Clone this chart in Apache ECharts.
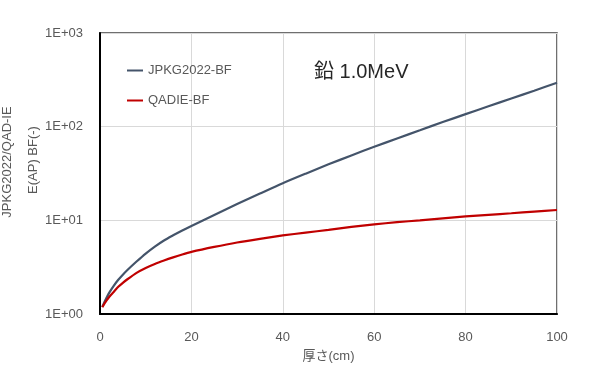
<!DOCTYPE html>
<html>
<head>
<meta charset="utf-8">
<script src="https://cdn.jsdelivr.net/npm/echarts@6/dist/echarts.min.js"></script>
<style>
  html, body { margin: 0; padding: 0; background: #fff; }
  #chart { width: 611px; height: 369px; }
</style>
</head>
<body>
<div id="chart"></div>
<script>
// Thickness (cm) and build-up factors for lead at 1.0 MeV
const thickness = [0.5, 1, 2, 3, 4, 5, 6, 8, 10, 12, 14, 16, 18, 20, 25, 30, 35, 40, 45, 50, 55, 60, 65, 70, 75, 80, 85, 90, 95, 100];
const jpkgBF = [1.19, 1.35, 1.68, 2.0, 2.32, 2.63, 2.95, 3.63, 4.42, 5.25, 6.1, 6.92, 7.8, 8.71, 11.4, 14.9, 19.3, 24.9, 31.5, 39.6, 49.3, 61, 74.8, 91.5, 112, 136, 165, 200, 242, 294];
const qadieBF = [1.18, 1.3, 1.52, 1.72, 1.95, 2.15, 2.35, 2.75, 3.1, 3.42, 3.72, 4.02, 4.32, 4.6, 5.2, 5.8, 6.35, 6.9, 7.4, 7.9, 8.5, 9.05, 9.55, 10.0, 10.5, 11.0, 11.45, 11.9, 12.4, 12.9];
const seriesNames = ['JPKG2022-BF', 'QADIE-BF'];
const yTickLabels = { 1: '1E+00', 10: '1E+01', 100: '1E+02', 1000: '1E+03' };

const FONT = '"Liberation Sans", "Noto Sans CJK JP", sans-serif';
const GRAY = '#595959';

const chart = echarts.init(document.getElementById('chart'), null, { renderer: 'canvas' });

const pairs = (xs, ys) => xs.map((x, i) => [x, ys[i]]);

chart.setOption({
  animation: false,
  textStyle: { fontFamily: FONT },
  grid: {
    left: 100, right: 54, top: 33, bottom: 55,
    show: true, borderColor: '#404040', borderWidth: 1.5
  },
  legend: {
    data: seriesNames,
    orient: 'vertical',
    left: 122, top: 59,
    itemWidth: 16, itemHeight: 14, itemGap: 17,
    icon: 'path://M0,6 L16,6 L16,8 L0,8 Z',
    textStyle: { color: GRAY, fontSize: 13, fontFamily: FONT }
  },
  xAxis: {
    type: 'value', min: 0, max: 100, interval: 20,
    name: '厚さ(cm)', nameLocation: 'middle', nameGap: 36,
    nameTextStyle: { color: GRAY, fontSize: 13, fontFamily: FONT },
    axisLine: { show: true, lineStyle: { color: '#000', width: 2 } },
    axisTick: { show: false },
    axisLabel: { color: GRAY, fontSize: 13, margin: 17, fontFamily: FONT },
    splitLine: { show: true, lineStyle: { color: '#d9d9d9', width: 1 } }
  },
  yAxis: {
    type: 'log', logBase: 10, min: 1, max: 1000,
    axisLine: { show: true, lineStyle: { color: '#000', width: 2 } },
    axisTick: { show: false },
    axisLabel: {
      color: GRAY, fontSize: 13, margin: 17, fontFamily: FONT,
      formatter: v => yTickLabels[Math.round(v)] || ''
    },
    splitLine: { show: true, lineStyle: { color: '#d9d9d9', width: 1 } }
  },
  graphic: [
    {
      type: 'text', x: 7, y: 162, rotation: Math.PI / 2,
      style: { text: 'JPKG2022/QAD-IE', fill: GRAY, font: '13px ' + FONT, textAlign: 'center', textVerticalAlign: 'middle' }
    },
    {
      type: 'text', x: 33, y: 160, rotation: Math.PI / 2,
      style: { text: 'E(AP) BF(-)', fill: GRAY, font: '13px ' + FONT, textAlign: 'center', textVerticalAlign: 'middle' }
    },
    {
      type: 'text', x: 314, y: 72,
      style: { text: '鉛 1.0MeV', fill: '#262626', font: '20px ' + FONT, textAlign: 'left', textVerticalAlign: 'middle' }
    }
  ],
  series: [
    {
      name: seriesNames[0], type: 'line', data: pairs(thickness, jpkgBF),
      smooth: 0.25, showSymbol: false, symbol: 'none',
      lineStyle: { color: '#44546a', width: 2.2 }, itemStyle: { color: '#44546a' }
    },
    {
      name: seriesNames[1], type: 'line', data: pairs(thickness, qadieBF),
      smooth: 0.25, showSymbol: false, symbol: 'none',
      lineStyle: { color: '#c00000', width: 2.2 }, itemStyle: { color: '#c00000' }
    }
  ]
});
</script>
</body>
</html>
